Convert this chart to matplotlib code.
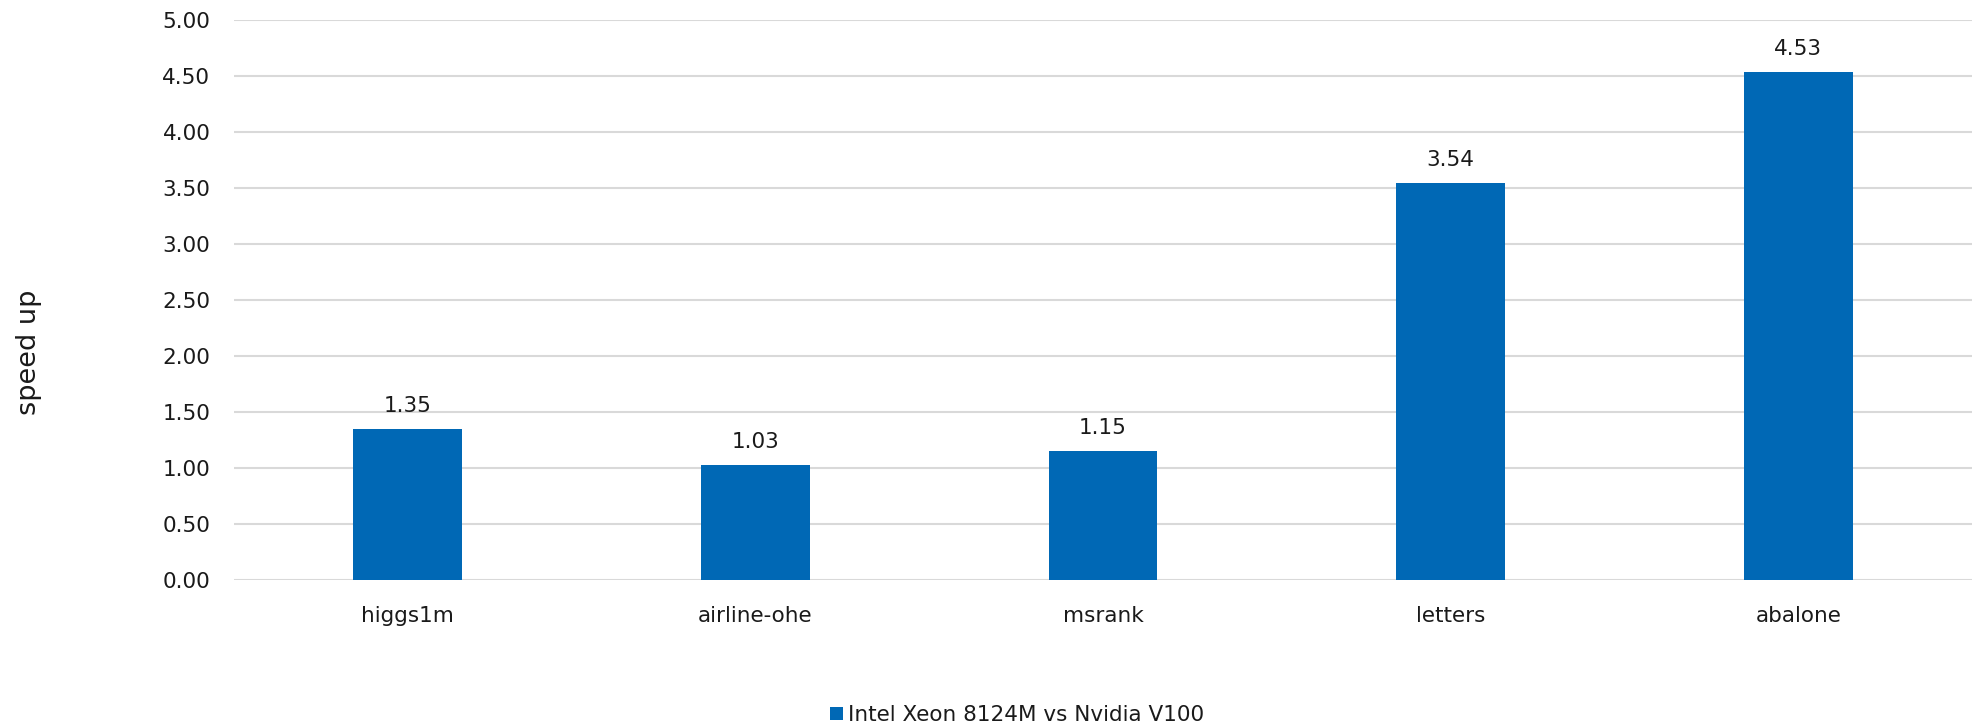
import matplotlib
matplotlib.use("Agg")
import matplotlib.pyplot as plt
from matplotlib.patches import Patch

categories = ["higgs1m", "airline-ohe", "msrank", "letters", "abalone"]
values = [1.35, 1.03, 1.15, 3.54, 4.53]
series_name = "Intel Xeon 8124M vs Nvidia V100"
yticks = [0.0, 0.5, 1.0, 1.5, 2.0, 2.5, 3.0, 3.5, 4.0, 4.5, 5.0]

plt.rcParams['font.family'] = ['DejaVu Sans']
BLUE = "#0068B5"
TXT = "#1a1a1a"
FS = 15.5

fig = plt.figure(figsize=(19.72, 7.25), dpi=100)
ax = fig.add_axes([234/1972, 1 - 580/725, 1 - 234/1972, (580 - 19.5)/725])

x = list(range(len(categories)))
bars = ax.bar(x, values, width=0.313, color=BLUE, zorder=3)
ax.set_xlim(-0.5, len(categories) - 0.5)
ax.set_ylim(0, 5.0)
ax.set_yticks(yticks)
ax.set_yticklabels([f"{v:.2f}" for v in yticks])
ax.set_xticks(x)
ax.set_xticklabels(categories)
ax.grid(axis='y', color="#D9D9D9", linewidth=1.5, zorder=0)
ax.set_axisbelow(True)
for s in ax.spines.values():
    s.set_visible(False)
ax.tick_params(axis='both', length=0, labelsize=FS, colors=TXT)
ax.tick_params(axis='y', pad=17)
ax.tick_params(axis='x', pad=19)

for b, v in zip(bars, values):
    ax.annotate(f"{v:.2f}", (b.get_x() + b.get_width()/2, v), xytext=(0, 13),
                textcoords='offset pixels', ha='center', va='bottom',
                fontsize=FS, color=TXT)

fig.text(29/1972, 1 - 352/725, "speed up", rotation=90, ha='center', va='center',
         fontsize=19.5, color=TXT)

handle = Patch(facecolor=BLUE, edgecolor='none')
fig.legend([handle], [series_name], loc='center', bbox_to_anchor=(1017/1972, 1 - 715/725),
           frameon=False, fontsize=FS, handlelength=0.6, handleheight=0.6,
           handletextpad=0.25, labelcolor=TXT)

fig.savefig("out.png", dpi=100)
